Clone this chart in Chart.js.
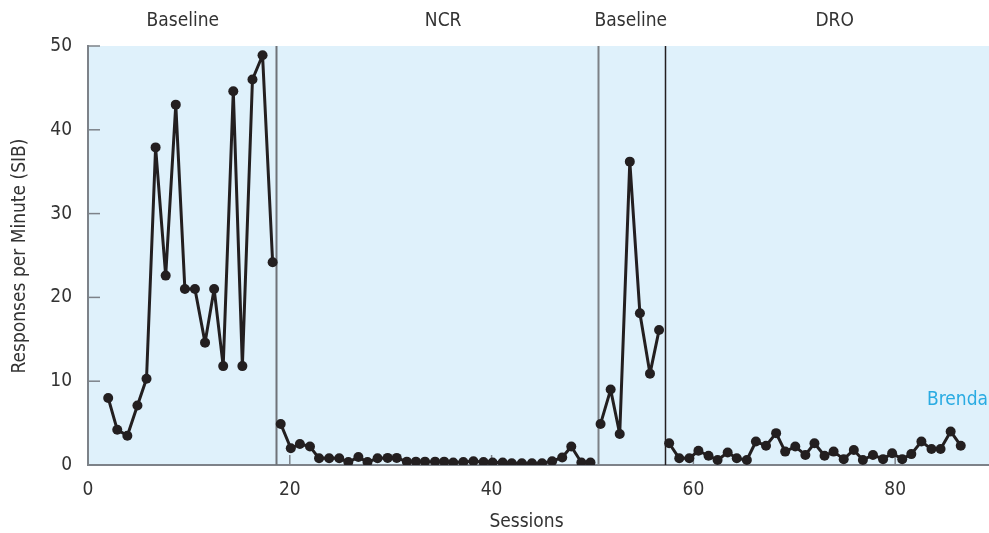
<!DOCTYPE html>
<html>
<head>
<meta charset="utf-8">
<script src="https://cdn.jsdelivr.net/npm/chart.js@4"></script>
<style>
  body { margin: 0; background: #fff; }
  #wrap { width: 989px; height: 533px; }
</style>
</head>
<body>
<div id="wrap"><canvas id="chart" width="989" height="533"></canvas></div>
<script>
// phase 1 - baseline
const base1X = [2.0, 2.9, 3.9, 4.9, 5.8, 6.7, 7.7, 8.7, 9.6, 10.6, 11.6, 12.5, 13.4, 14.4, 15.3, 16.3, 17.3, 18.3];
const base1Y = [8.0, 4.2, 3.5, 7.1, 10.3, 37.9, 22.6, 43.0, 21.0, 21.0, 14.6, 21.0, 11.8, 44.6, 11.8, 46.0, 48.9, 24.2];

// phase 2 - NCR
const ncrX = [19.1, 20.1, 21.0, 22.0, 22.9, 23.9, 24.9, 25.8, 26.8, 27.7, 28.7, 29.7, 30.6, 31.6, 32.5, 33.4, 34.4,
              35.3, 36.2, 37.2, 38.2, 39.2, 40.1, 41.1, 42.0, 43.0, 44.0, 45.0, 46.0, 47.0, 47.9, 48.9, 49.8];
const ncrY = [4.9, 2.0, 2.5, 2.2, 0.8, 0.8, 0.8, 0.35, 0.95, 0.35, 0.8, 0.85, 0.85, 0.4, 0.4, 0.4, 0.4,
              0.4, 0.3, 0.35, 0.45, 0.35, 0.3, 0.3, 0.2, 0.2, 0.2, 0.2, 0.45, 0.9, 2.2, 0.3, 0.3];

// phase 3 - baseline again
const base2X = [50.8, 51.8, 52.7, 53.7, 54.7, 55.7, 56.6];
const base2Y = [4.9, 9.0, 3.7, 36.2, 18.1, 10.9, 16.1];

// phase 4 - DRO
const droX = [57.6, 58.6, 59.6, 60.5, 61.5, 62.4, 63.4, 64.3, 65.3, 66.2, 67.2, 68.2, 69.1, 70.1, 71.1, 72.0,
              73.0, 73.9, 74.9, 75.9, 76.8, 77.8, 78.8, 79.7, 80.7, 81.6, 82.6, 83.6, 84.5, 85.5, 86.5];
const droY = [2.6, 0.8, 0.8, 1.7, 1.1, 0.6, 1.5, 0.8, 0.6, 2.8, 2.3, 3.8, 1.6, 2.2, 1.2, 2.6,
              1.1, 1.6, 0.7, 1.8, 0.6, 1.2, 0.7, 1.4, 0.7, 1.3, 2.8, 1.9, 1.9, 4.0, 2.3];

const phaseNames = ['Baseline', 'NCR', 'Baseline', 'DRO'];
const phaseLabelAt = [9.4, 35.2, 53.8, 74.0];
const phaseLines = [18.6, 50.5, 57.2];
const phaseLineColors = ['#6f7378', '#7d8186', '#231f20'];

const xTicks = [0, 20, 40, 60, 80];
const yTicks = [0, 10, 20, 30, 40, 50];

const FONT = '"Liberation Sans Narrow", "DejaVu Sans Condensed", sans-serif';
const TEXT = '#333333';
const AXIS = '#7d8289';
const INK = '#231f20';

function toPoints(xs, ys) {
    return xs.map((x, i) => ({ x: x, y: ys[i] }));
}

function series(xs, ys) {
    return {
        data: toPoints(xs, ys),
        borderColor: INK,
        backgroundColor: INK,
        borderWidth: 3,
        borderJoinStyle: 'round',
        pointRadius: 5,
        pointHoverRadius: 5,
        pointBorderWidth: 0,
        tension: 0
    };
}

// fond bleu, lignes de phase, petits traits vers l'intérieur, textes
const decor = {
    id: 'decor',
    beforeDraw(chart) {
        const { ctx, chartArea: a } = chart;
        ctx.save();
        ctx.fillStyle = '#dff1fb';
        ctx.fillRect(a.left, a.top, a.right - a.left, a.bottom - a.top);
        ctx.restore();
    },
    beforeDatasetsDraw(chart) {
        const { ctx, chartArea: a, scales } = chart;
        ctx.save();
        phaseLines.forEach((v, i) => {
            const px = Math.round(scales.x.getPixelForValue(v)) + 0.5;
            ctx.strokeStyle = phaseLineColors[i];
            ctx.lineWidth = i === 2 ? 1.5 : 2;
            ctx.beginPath();
            ctx.moveTo(px, a.top);
            ctx.lineTo(px, a.bottom);
            ctx.stroke();
        });
        ctx.strokeStyle = AXIS;
        ctx.lineWidth = 1.5;
        yTicks.forEach(v => {
            const py = scales.y.getPixelForValue(v);
            ctx.beginPath();
            ctx.moveTo(a.left, py);
            ctx.lineTo(a.left + 12, py);
            ctx.stroke();
        });
        xTicks.forEach(v => {
            const px = scales.x.getPixelForValue(v);
            ctx.beginPath();
            ctx.moveTo(px, a.bottom);
            ctx.lineTo(px, a.bottom - 10);
            ctx.stroke();
        });
        ctx.restore();
    },
    afterDraw(chart) {
        const { ctx, chartArea: a, scales } = chart;
        ctx.save();
        ctx.fillStyle = TEXT;
        ctx.font = '19px ' + FONT;
        ctx.textAlign = 'center';
        ctx.textBaseline = 'middle';
        phaseNames.forEach((name, i) => {
            ctx.fillText(name, scales.x.getPixelForValue(phaseLabelAt[i]), 21);
        });
        ctx.fillText('Sessions', (a.left + a.right) / 2 - 12, 522);

        ctx.save();
        ctx.translate(20, 256);
        ctx.rotate(-Math.PI / 2);
        ctx.fillText('Responses per Minute (SIB)', 0, 0);
        ctx.restore();

        ctx.fillStyle = '#29abe2';
        ctx.textAlign = 'right';
        ctx.fillText('Brenda', 988, 400);
        ctx.restore();
    }
};

new Chart(document.getElementById('chart'), {
    type: 'line',
    data: {
        datasets: [
            series(base1X, base1Y),
            series(ncrX, ncrY),
            series(base2X, base2Y),
            series(droX, droY)
        ]
    },
    options: {
        responsive: false,
        animation: false,
        layout: { autoPadding: false, padding: { top: 46, right: 0, left: 0, bottom: 0 } },
        plugins: {
            legend: { display: false },
            tooltip: { enabled: false }
        },
        scales: {
            x: {
                type: 'linear',
                min: 0,
                max: 89.3,
                grid: { display: false, drawTicks: false },
                border: { display: true, color: AXIS, width: 2 },
                ticks: { color: TEXT, font: { family: FONT, size: 19 }, padding: 14, maxRotation: 0 },
                afterBuildTicks: scale => { scale.ticks = xTicks.map(v => ({ value: v })); },
                afterFit: scale => {
                    scale.height = 68;
                    scale.paddingLeft = 0;
                    scale.paddingRight = 0;
                }
            },
            y: {
                type: 'linear',
                min: 0,
                max: 50,
                grid: { display: false, drawTicks: false },
                border: { display: true, color: AXIS, width: 2 },
                ticks: { color: TEXT, font: { family: FONT, size: 19 }, padding: 16 },
                afterBuildTicks: scale => { scale.ticks = yTicks.map(v => ({ value: v })); },
                afterFit: scale => {
                    scale.width = 88;
                    scale.paddingTop = 0;
                    scale.paddingBottom = 0;
                }
            }
        }
    },
    plugins: [decor]
});
</script>
</body>
</html>
